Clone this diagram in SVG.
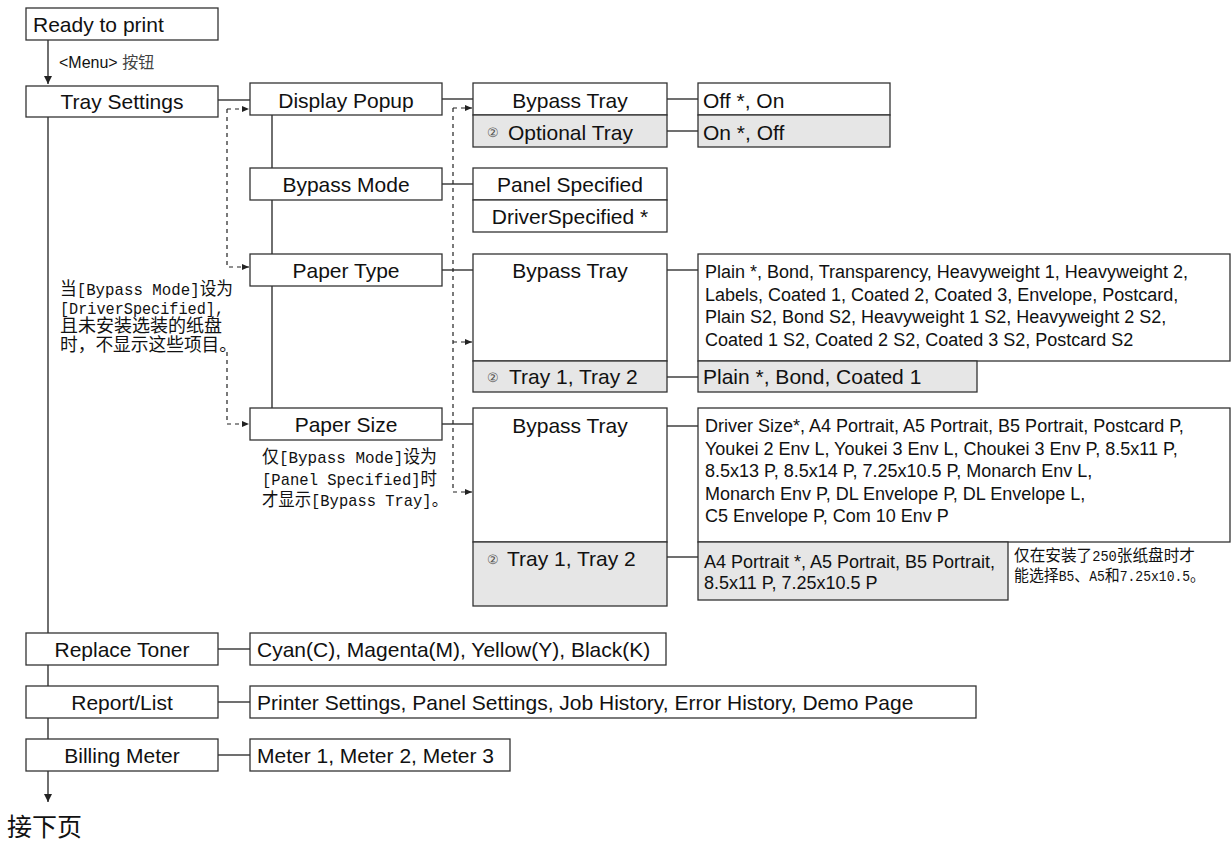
<svg xmlns="http://www.w3.org/2000/svg" width="1232" height="841" viewBox="0 0 1232 841">
<defs>
<marker id="ah" viewBox="0 0 8 8" markerWidth="8" markerHeight="8" refX="8" refY="4" orient="auto" markerUnits="userSpaceOnUse"><path d="M0,0 L8,4 L0,8 z" fill="#222"/></marker>
<marker id="ahs" viewBox="0 0 7 6" markerWidth="7" markerHeight="6" refX="7" refY="3" orient="auto" markerUnits="userSpaceOnUse"><path d="M0,0 L7,3 L0,6 z" fill="#222"/></marker>
</defs>
<style>
.b{fill:#fff;stroke:#333;stroke-width:1.3}
.g{fill:#e6e6e6;stroke:#333;stroke-width:1.3}
.ln{fill:none;stroke:#222;stroke-width:1.3}
.ds{fill:none;stroke:#222;stroke-width:1.2;stroke-dasharray:4 4}
text{font-family:"Liberation Sans",Arial,sans-serif;font-size:21px;fill:#111}
.c{text-anchor:middle}
.s{font-size:18px}
.cn{font-family:"Noto Sans CJK SC",sans-serif}
.m{font-family:"Liberation Mono","Noto Sans CJK SC",monospace}
.ci{font-size:13px;fill:#555}
</style>
<rect width="1232" height="841" fill="#fff"/>
<g id="connectors">
<path class="ln" d="M48,40 V84" marker-end="url(#ah)"/>
<path class="ln" d="M48,117 V802" marker-end="url(#ah)"/>
<path class="ln" d="M218,100 H250"/>
<path class="ln" d="M272,115 V408"/>
<path class="ln" d="M442,99 H473"/>
<path class="ln" d="M667,99 H698"/>
<path class="ln" d="M667,131 H698"/>
<path class="ln" d="M442,184 H473"/>
<path class="ln" d="M442,270 H473"/>
<path class="ln" d="M667,270 H698"/>
<path class="ln" d="M667,377 H698"/>
<path class="ln" d="M442,424 H473"/>
<path class="ln" d="M667,426 H698"/>
<path class="ln" d="M667,557 H698"/>
<path class="ln" d="M218,649 H250"/>
<path class="ln" d="M218,702 H250"/>
<path class="ln" d="M218,755 H250"/>
<path class="ds" d="M227,109 H249" marker-end="url(#ahs)"/>
<path class="ds" d="M227,109 V267 H249" marker-end="url(#ahs)"/>
<path class="ds" d="M227,352 V424 H249" marker-end="url(#ahs)"/>
<path class="ds" d="M453,108 H472" marker-end="url(#ahs)"/>
<path class="ds" d="M453,342 H472" marker-end="url(#ahs)"/>
<path class="ds" d="M453,108 V492 H472" marker-end="url(#ahs)"/>
</g>
<g id="ready"><rect class="b" x="26" y="8" width="192" height="32"/><text x="33" y="31.5">Ready to print</text></g>
<g id="menu-label"><text x="59" y="68" style="font-size:16px">&lt;Menu&gt; <tspan class="cn" style="fill:#444">按钮</tspan></text></g>
<g id="tray-settings"><rect class="b" x="26" y="86" width="192" height="31"/><text class="c" x="122" y="109">Tray Settings</text></g>
<g id="display-popup"><rect class="b" x="250" y="83" width="192" height="32"/><text class="c" x="346" y="107.5">Display Popup</text></g>
<g id="dp-options">
<rect class="b" x="473" y="83" width="194" height="32"/><text class="c" x="570" y="107.5">Bypass Tray</text>
<rect class="g" x="473" y="115" width="194" height="32"/><text x="487" y="137" class="ci">②</text><text x="508" y="139.5">Optional Tray</text>
</g>
<g id="dp-values">
<rect class="b" x="698" y="83" width="192" height="32"/><text x="703" y="107.5">Off *, On</text>
<rect class="g" x="698" y="115" width="192" height="32"/><text x="703" y="139.5">On *, Off</text>
</g>
<g id="bypass-mode"><rect class="b" x="250" y="168" width="192" height="32"/><text class="c" x="346" y="192">Bypass Mode</text></g>
<g id="bm-options">
<rect class="b" x="473" y="168" width="194" height="32"/><text class="c" x="570" y="192">Panel Specified</text>
<rect class="b" x="473" y="200" width="194" height="32"/><text class="c" x="570" y="224">DriverSpecified *</text>
</g>
<g id="paper-type"><rect class="b" x="250" y="254" width="192" height="32"/><text class="c" x="346" y="278">Paper Type</text></g>
<g id="pt-options">
<rect class="b" x="473" y="254" width="194" height="107"/><text class="c" x="570" y="278">Bypass Tray</text>
<rect class="g" x="473" y="361" width="194" height="31"/><text x="487" y="382" class="ci">②</text><text x="509" y="384">Tray 1, Tray 2</text>
</g>
<g id="pt-values">
<rect class="b" x="698" y="254" width="532" height="107"/>
<text class="s" x="705" y="278">Plain *, Bond, Transparency, Heavyweight 1, Heavyweight 2,</text>
<text class="s" x="705" y="300.5">Labels, Coated 1, Coated 2, Coated 3, Envelope, Postcard,</text>
<text class="s" x="705" y="323">Plain S2, Bond S2, Heavyweight 1 S2, Heavyweight 2 S2,</text>
<text class="s" x="705" y="345.5">Coated 1 S2, Coated 2 S2, Coated 3 S2, Postcard S2</text>
<rect class="g" x="698" y="361" width="279" height="31"/><text x="703" y="384">Plain *, Bond, Coated 1</text>
</g>
<g id="note-left">
<text class="m" x="60" y="295" textLength="173" lengthAdjust="spacingAndGlyphs" style="font-size:17px"><tspan class="cn" style="font-size:18px">当</tspan>[Bypass Mode]<tspan class="cn" style="font-size:18px">设为</tspan></text>
<text class="m" x="60" y="313.5" textLength="164" lengthAdjust="spacingAndGlyphs" style="font-size:17px">[DriverSpecified],</text>
<text class="cn" x="60" y="332" style="font-size:18px">且未安装选装的纸盘</text>
<text class="cn" x="60" y="350.5" style="font-size:18px" textLength="177" lengthAdjust="spacingAndGlyphs">时，不显示这些项目。</text>
</g>
<g id="paper-size"><rect class="b" x="250" y="408" width="192" height="32"/><text class="c" x="346" y="432">Paper Size</text></g>
<g id="note-size">
<text class="m" x="262" y="463" textLength="175" lengthAdjust="spacingAndGlyphs" style="font-size:17px"><tspan class="cn" style="font-size:18px">仅</tspan>[Bypass Mode]<tspan class="cn" style="font-size:18px">设为</tspan></text>
<text class="m" x="262" y="484.5" textLength="175" lengthAdjust="spacingAndGlyphs" style="font-size:17px">[Panel Specified]<tspan class="cn" style="font-size:18px">时</tspan></text>
<text class="m" x="262" y="506" textLength="186" lengthAdjust="spacingAndGlyphs" style="font-size:17px"><tspan class="cn" style="font-size:18px">才显示</tspan>[Bypass Tray]<tspan class="cn" style="font-size:18px">。</tspan></text>
</g>
<g id="ps-options">
<rect class="b" x="473" y="408" width="194" height="134"/><text class="c" x="570" y="433">Bypass Tray</text>
<rect class="g" x="473" y="542" width="194" height="64"/><text x="487" y="564" class="ci">②</text><text x="507" y="566">Tray 1, Tray 2</text>
</g>
<g id="ps-values">
<rect class="b" x="698" y="408" width="532" height="134"/>
<text class="s" x="705" y="432">Driver Size*, A4 Portrait, A5 Portrait, B5 Portrait, Postcard P,</text>
<text class="s" x="705" y="454.5">Youkei 2 Env L, Youkei 3 Env L, Choukei 3 Env P, 8.5x11 P,</text>
<text class="s" x="705" y="477">8.5x13 P, 8.5x14 P, 7.25x10.5 P, Monarch Env L,</text>
<text class="s" x="705" y="499.5">Monarch Env P, DL Envelope P, DL Envelope L,</text>
<text class="s" x="705" y="522">C5 Envelope P, Com 10 Env P</text>
<rect class="g" x="698" y="542" width="310" height="58"/>
<text class="s" x="704" y="568">A4 Portrait *, A5 Portrait, B5 Portrait,</text>
<text class="s" x="704" y="589">8.5x11 P, 7.25x10.5 P</text>
</g>
<g id="note-250">
<text class="cn" x="1014" y="561" style="font-size:16px" textLength="181" lengthAdjust="spacingAndGlyphs">仅在安装了<tspan class="m" style="font-size:14px">250</tspan>张纸盘时才</text>
<text class="cn" x="1014" y="581" style="font-size:16px" textLength="191" lengthAdjust="spacingAndGlyphs">能选择<tspan class="m" style="font-size:14px">B5</tspan>、<tspan class="m" style="font-size:14px">A5</tspan>和<tspan class="m" style="font-size:14px">7.25x10.5</tspan>。</text>
</g>
<g id="replace-toner"><rect class="b" x="26" y="633" width="192" height="32"/><text class="c" x="122" y="656.5">Replace Toner</text>
<rect class="b" x="250" y="633" width="416" height="32"/><text x="257" y="656.5">Cyan(C), Magenta(M), Yellow(Y), Black(K)</text></g>
<g id="report-list"><rect class="b" x="26" y="686" width="192" height="32"/><text class="c" x="122" y="709.5">Report/List</text>
<rect class="b" x="250" y="686" width="726" height="32"/><text x="257" y="709.5">Printer Settings, Panel Settings, Job History, Error History, Demo Page</text></g>
<g id="billing-meter"><rect class="b" x="26" y="739" width="192" height="32"/><text class="c" x="122" y="762.5">Billing Meter</text>
<rect class="b" x="250" y="739" width="260" height="32"/><text x="257" y="762.5">Meter 1, Meter 2, Meter 3</text></g>
<g id="next-page"><text class="cn" x="7" y="836" style="font-size:25px">接下页</text></g>
</svg>
